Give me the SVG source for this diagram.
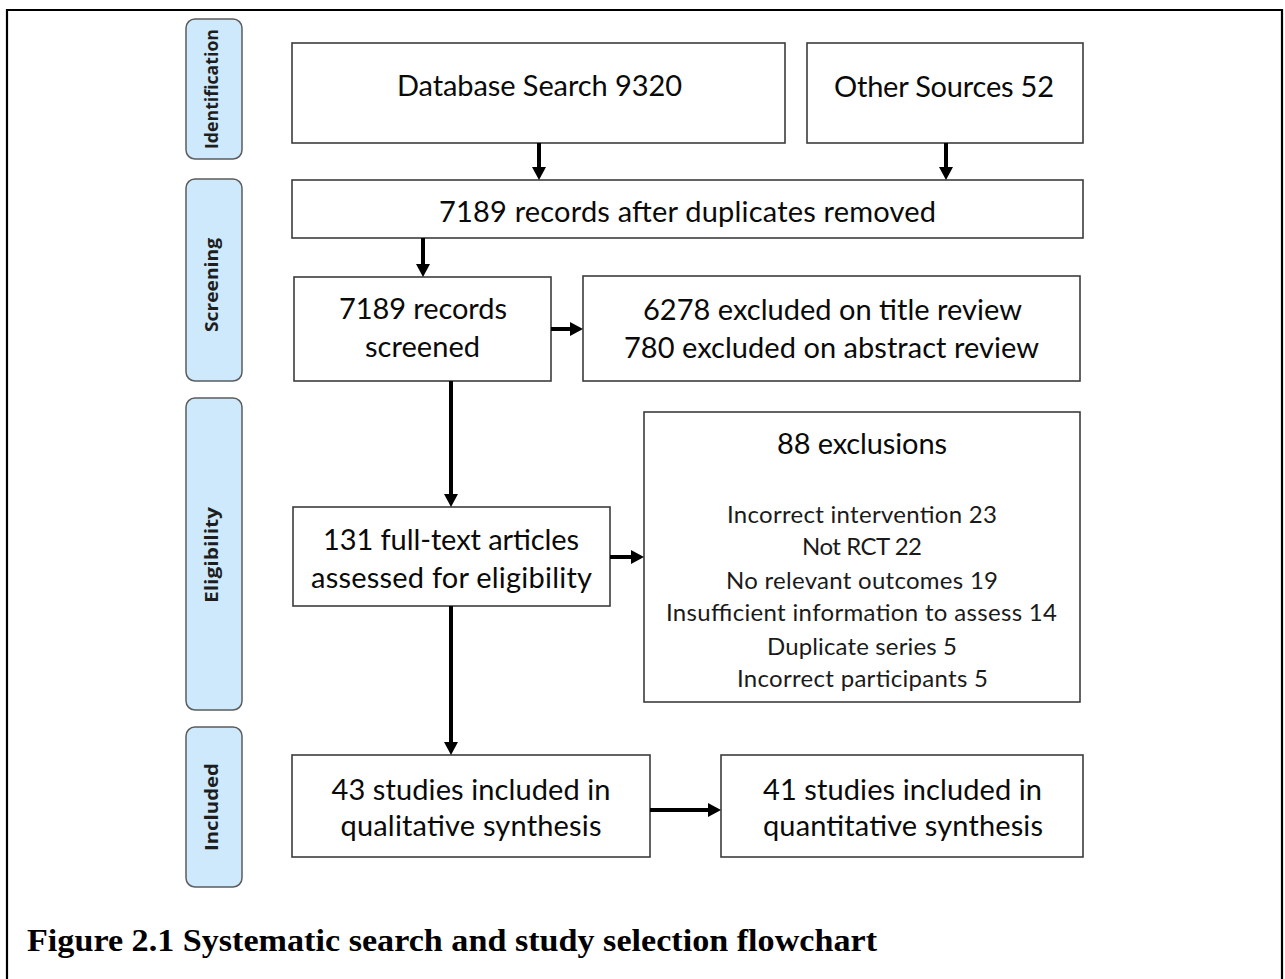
<svg xmlns="http://www.w3.org/2000/svg" width="1285" height="979" viewBox="0 0 1285 979">
<style>
.bg{fill:#fff}
.frame{fill:none;stroke:#000;stroke-width:2.2}
.box{fill:#fff;stroke:#3c3c3c;stroke-width:1.6}
.pill{fill:#cde9fb;stroke:#5c5c5c;stroke-width:1.5}
.t{font-family:Lato,"Liberation Sans",sans-serif;font-size:29px;fill:#0a0a0a;text-anchor:middle}
.s{font-family:Lato,"Liberation Sans",sans-serif;font-size:24px;fill:#1a1a1a;text-anchor:middle}
.p{font-family:"Open Sans","DejaVu Sans",sans-serif;font-size:18px;font-weight:700;fill:#1e1e1e;text-anchor:middle}
.cap{font-family:"Liberation Serif","DejaVu Serif",serif;font-size:32px;font-weight:700;fill:#000}
.ln{stroke:#000;stroke-width:4;fill:none}
.hd{fill:#000}
</style>
<rect class="bg" x="0" y="0" width="1285" height="979"/>
<path class="frame" d="M7,979 V10 H1282 V979"/>

<g id="phase-identification"><rect class="pill" x="186" y="19" width="56" height="140" rx="9"/><text class="p" transform="translate(218,89) rotate(-90)" textLength="120" lengthAdjust="spacingAndGlyphs">Identification</text></g>
<g id="phase-screening"><rect class="pill" x="186" y="179" width="56" height="202" rx="9"/><text class="p" transform="translate(218,285) rotate(-90)" textLength="94" lengthAdjust="spacingAndGlyphs">Screening</text></g>
<g id="phase-eligibility"><rect class="pill" x="186" y="398" width="56" height="312" rx="9"/><text class="p" transform="translate(218,555) rotate(-90)" textLength="96" lengthAdjust="spacingAndGlyphs">Eligibility</text></g>
<g id="phase-included"><rect class="pill" x="186" y="727" width="56" height="160" rx="9"/><text class="p" transform="translate(218,807) rotate(-90)" textLength="88" lengthAdjust="spacingAndGlyphs">Included</text></g>

<g id="node-database"><rect class="box" x="292" y="43" width="493" height="100"/><text class="t" x="539.5" y="96" textLength="285">Database Search 9320</text></g>
<g id="node-other"><rect class="box" x="807" y="43" width="276" height="100"/><text class="t" x="944" y="97" textLength="220">Other Sources 52</text></g>
<g id="node-dedup"><rect class="box" x="292" y="180" width="791" height="58"/><text class="t" x="687.5" y="222" textLength="497">7189 records after duplicates removed</text></g>
<g id="node-screened"><rect class="box" x="294" y="277" width="257" height="104"/><text class="t" x="423" y="319" textLength="168">7189 records</text><text class="t" x="422.5" y="357" textLength="115">screened</text></g>
<g id="node-excluded-screen"><rect class="box" x="583" y="276" width="497" height="105"/><text class="t" x="832.5" y="320" textLength="379">6278 excluded on title review</text><text class="t" x="831.5" y="358" textLength="415">780 excluded on abstract review</text></g>
<g id="node-fulltext"><rect class="box" x="293" y="507" width="317" height="99"/><text class="t" x="451" y="550" textLength="256">131 full-text articles</text><text class="t" x="451.5" y="588" textLength="281">assessed for eligibility</text></g>
<g id="node-exclusions"><rect class="box" x="644" y="412" width="436" height="290"/>
<text class="t" x="862" y="454" textLength="170">88 exclusions</text>
<text class="s" x="862" y="523" textLength="270">Incorrect intervention 23</text>
<text class="s" x="862" y="555" textLength="120">Not RCT 22</text>
<text class="s" x="862" y="589" textLength="272">No relevant outcomes 19</text>
<text class="s" x="861.5" y="621" textLength="391">Insufficient information to assess 14</text>
<text class="s" x="862" y="655" textLength="190">Duplicate series 5</text>
<text class="s" x="862.5" y="687" textLength="251">Incorrect participants 5</text>
</g>
<g id="node-qualitative"><rect class="box" x="292" y="755" width="358" height="102"/><text class="t" x="471" y="800" textLength="279">43 studies included in</text><text class="t" x="471" y="836" textLength="261">qualitative synthesis</text></g>
<g id="node-quantitative"><rect class="box" x="721" y="755" width="362" height="102"/><text class="t" x="902.5" y="800" textLength="279">41 studies included in</text><text class="t" x="903" y="836" textLength="280">quantitative synthesis</text></g>

<g id="connectors">
<line class="ln" x1="539" y1="143" x2="539" y2="168"/><polygon class="hd" points="532,167 546,167 539,180"/>
<line class="ln" x1="946" y1="143" x2="946" y2="168"/><polygon class="hd" points="939,167 953,167 946,180"/>
<line class="ln" x1="423" y1="238" x2="423" y2="265"/><polygon class="hd" points="416,264 430,264 423,277"/>
<line class="ln" x1="551" y1="329" x2="571" y2="329"/><polygon class="hd" points="570,322 570,336 583,329"/>
<line class="ln" x1="451" y1="381" x2="451" y2="495"/><polygon class="hd" points="444,494 458,494 451,507"/>
<line class="ln" x1="610" y1="557" x2="632" y2="557"/><polygon class="hd" points="631,550 631,564 644,557"/>
<line class="ln" x1="451" y1="606" x2="451" y2="743"/><polygon class="hd" points="444,742 458,742 451,755"/>
<line class="ln" x1="650" y1="810" x2="709" y2="810"/><polygon class="hd" points="708,803 708,817 721,810"/>
</g>

<text id="caption" class="cap" x="27" y="951" textLength="850" lengthAdjust="spacingAndGlyphs">Figure 2.1 Systematic search and study selection flowchart</text>
</svg>
